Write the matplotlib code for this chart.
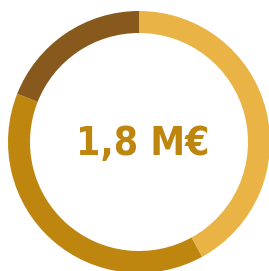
import matplotlib
matplotlib.use("Agg")
from matplotlib import pyplot as plt

# parts of the total, clockwise from the top
parts = [42, 39, 19]
colors = ["#E9B345", "#BE860F", "#87591D"]
label = "1,8 M€"

fig = plt.figure(figsize=(2.69, 2.71), dpi=100)
ax = fig.add_axes([0, 0, 1, 1])
ax.pie(parts, colors=colors, startangle=90, counterclock=False,
       center=(139, 129), radius=131, frame=True,
       wedgeprops=dict(width=22, linewidth=0))
ax.set_xlim(0, 269)
ax.set_ylim(0, 271)
ax.set_aspect("equal")
ax.axis("off")

ax.text(143, 127, label, ha="center", va="center", fontsize=28,
        fontweight="bold", fontstretch="condensed", color="#BE860F",
        family="DejaVu Sans")

fig.savefig("out.png", dpi=100)
